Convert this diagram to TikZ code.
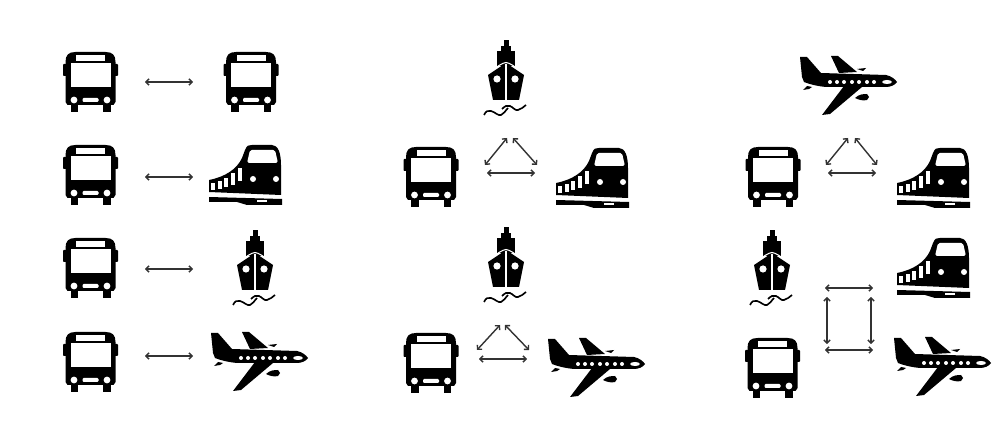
\documentclass[tikz,border=0pt]{standalone}
\usepackage{tikz}
\usetikzlibrary{arrows.meta}
\tikzset{
  link/.style={draw=black!80,line width=1.2pt,{Straight Barb[length=2.6pt,width=5.5pt]}-{Straight Barb[length=2.6pt,width=5.5pt]}},
  pics/busicon/.style={code={
    \fill[black] (-25,20) -- (-25,-20) .. controls (-25,-27) and (-22,-30) .. (-15,-30) -- (15,-30)
      .. controls (22,-30) and (25,-27) .. (25,-20) -- (25,20) -- (23,23) -- (-23,23) -- cycle;
    \fill[black] (-20,20) rectangle (-12.5,30);
    \fill[black] (12.5,20) rectangle (20,30);
    \fill[black,rounded corners=0.7pt] (-27.5,-18) rectangle (-24,-6);
    \fill[black,rounded corners=0.7pt] (24,-18) rectangle (27.5,-6);
    \fill[white] (-20,-19) rectangle (20,5);
    \fill[white] (-14.5,-27) rectangle (14.5,-21);
    \fill[white] (-16.5,18) circle (3.4);
    \fill[white] (16.5,18) circle (3.4);
    \fill[white,rounded corners=1pt] (-8,16) rectangle (8,20);
  }},
  pics/trainicon/.style={code={
    \fill[black] (-36,5) .. controls (-20,2) and (-8,-6) .. (-3,-17)
      -- (0,-25) .. controls (2,-30) and (4,-30) .. (7,-30) -- (27,-30)
      .. controls (33,-30) and (36,-22) .. (36,-10) -- (36,20) -- (-36,17) -- cycle;
    \fill[white,rounded corners=1.5pt] (2,-12) -- (5,-25) -- (30,-25) -- (33,-12) -- cycle;
    \foreach \xa/\xb/\ya/\yb in {-34.5/-30.5/8/15, -27.5/-23.5/6.5/14, -21/-17/3.5/12.5, -14/-10/-1.5/10.5, -7.5/-3.5/-7/6.5} {
      \fill[white] (\xa,\ya) rectangle (\xb,\yb);
    }
    \fill[white] (8,4) circle (3);
    \fill[white] (31,4) circle (3);
    \fill[black] (-36,22) -- (37,24) -- (37,30) -- (2,30) -- (-8,27) -- (-36,27) -- cycle;
    \fill[white] (12,25.5) rectangle (22,27.5);
  }},
  pics/shipicon/.style={code={
    \fill[black] (-2.5,-38) rectangle (2.5,-28);
    \fill[black] (-5,-32) rectangle (5,-27);
    \fill[black] (-9,-27) rectangle (9,-12);
    \fill[black] (0,-15) -- (18,-3) -- (13,22) -- (-13,22) -- (-18,-3) -- cycle;
    \draw[white,line width=0.9pt] (0,-14) -- (0,23);
    \draw[white,line width=0.9pt] (-16,-6) .. controls (-8,-12) and (-4,-15) .. (0,-15.5) .. controls (4,-15) and (8,-12) .. (16,-6);
    \fill[white] (-9,1) circle (3.6);
    \fill[white] (9,1) circle (3.6);
    \draw[black,line width=1.4pt] (-22,37) .. controls (-20,33) and (-18,32) .. (-15,33) .. controls (-11,34) and (-8,38) .. (-5,37) .. controls (-2,36) and (-1,33) .. (2,30);
    \draw[black,line width=1.4pt] (-4,31) .. controls (-1,28) and (1,27) .. (4,28) .. controls (7,29) and (9,33) .. (12,32) .. controls (15,31) and (18,29) .. (20,27);
  }},
  pics/planeicon/.style={code={
    \fill[black] (-49,-24) -- (-42,-24) -- (-28,-8) -- (37,-6)
      .. controls (42,-5) and (46,-2) .. (48,1)
      .. controls (46,4) and (42,6) .. (37,6) -- (-23,6)
      .. controls (-33,5) and (-40,3) .. (-45,1) -- (-47,-4) -- cycle;
    \fill[black] (-18,-25) -- (-11,-25) -- (8,-9) -- (-10,-8) -- cycle;
    \fill[black] (-5,5) -- (-27,34) -- (-19,33) -- (13,6) -- cycle;
    \fill[black] (6,17) .. controls (10,13) and (15,13) .. (18,13) -- (20,16) -- (18,19) .. controls (14,20) and (10,19) .. (6,17) -- cycle;
    \fill[black] (-46,9) -- (-42,5) -- (-37,6) -- (-40,8) -- cycle;
    \fill[black] (8,-12) -- (17,-13) -- (14,-10) -- cycle;
    \foreach \x in {-19,-12,-5,3,10,18,25} {
      \fill[white] (\x,1) circle (2);
    }
    \fill[white] (38,1) ellipse (5 and 2);
  }}
}
\begin{document}
\begin{tikzpicture}[x=0.03cm,y=-0.03cm]
  \useasboundingbox (0,0) rectangle (1004,430);
  % Coordinates
  \coordinate (busA) at (90.5,82);
  \coordinate (busB) at (251,82);
  \coordinate (busC) at (90.5,175);
  \coordinate (busD) at (90.5,268);
  \coordinate (busE) at (90.5,362);
  \coordinate (busF) at (431,177);
  \coordinate (busG) at (431,363);
  \coordinate (busH) at (773,177);
  \coordinate (busI) at (772.5,368);
  \coordinate (trainA) at (245,175);
  \coordinate (trainB) at (592,178);
  \coordinate (trainC) at (933,178);
  \coordinate (trainD) at (933,268);
  \coordinate (shipA) at (255,268);
  \coordinate (shipB) at (506,78);
  \coordinate (shipC) at (506,265);
  \coordinate (shipD) at (772,268);
  \coordinate (planeA) at (260,357);
  \coordinate (planeB) at (597,363);
  \coordinate (planeC) at (849,81);
  \coordinate (planeD) at (943,362);
  % Arrow ends
  \coordinate (a1) at (145,82);
  \coordinate (a2) at (193,82);
  \coordinate (b1) at (145,177);
  \coordinate (b2) at (193,177);
  \coordinate (c1) at (145,269);
  \coordinate (c2) at (193,269);
  \coordinate (d1) at (145,356);
  \coordinate (d2) at (193,356);
  \coordinate (e1) at (487,173);
  \coordinate (e2) at (535,173);
  \coordinate (e3) at (485,165);
  \coordinate (e4) at (507,138);
  \coordinate (e5) at (513,138);
  \coordinate (e6) at (537,165);
  \coordinate (f1) at (479,359);
  \coordinate (f2) at (527,359);
  \coordinate (f3) at (477,350);
  \coordinate (f4) at (500,325);
  \coordinate (f5) at (505,325);
  \coordinate (f6) at (529,350);
  \coordinate (g1) at (828,173);
  \coordinate (g2) at (876,173);
  \coordinate (g3) at (826,165);
  \coordinate (g4) at (848,138);
  \coordinate (g5) at (855,138);
  \coordinate (g6) at (877,165);
  \coordinate (h1) at (825,288);
  \coordinate (h2) at (873,288);
  \coordinate (h3) at (825,350);
  \coordinate (h4) at (873,350);
  \coordinate (h5) at (827,297);
  \coordinate (h6) at (827,344);
  \coordinate (h7) at (871,297);
  \coordinate (h8) at (871,344);
  % Icons
  \foreach \P in {busA,busB,busC,busD,busE,busF,busG,busH,busI} {
    \pic at (\P) {busicon};
  }
  \foreach \P in {trainA,trainB,trainC,trainD} {
    \pic at (\P) {trainicon};
  }
  \foreach \P in {shipA,shipB,shipC,shipD} {
    \pic at (\P) {shipicon};
  }
  \foreach \P in {planeA,planeB,planeC,planeD} {
    \pic at (\P) {planeicon};
  }
  % Links
  \foreach \P/\Q in {a1/a2,b1/b2,c1/c2,d1/d2,e1/e2,e3/e4,e5/e6,f1/f2,f3/f4,f5/f6,g1/g2,g3/g4,g5/g6,h1/h2,h3/h4,h5/h6,h7/h8} {
    \draw[link] (\P) -- (\Q);
  }
\end{tikzpicture}
\end{document}
